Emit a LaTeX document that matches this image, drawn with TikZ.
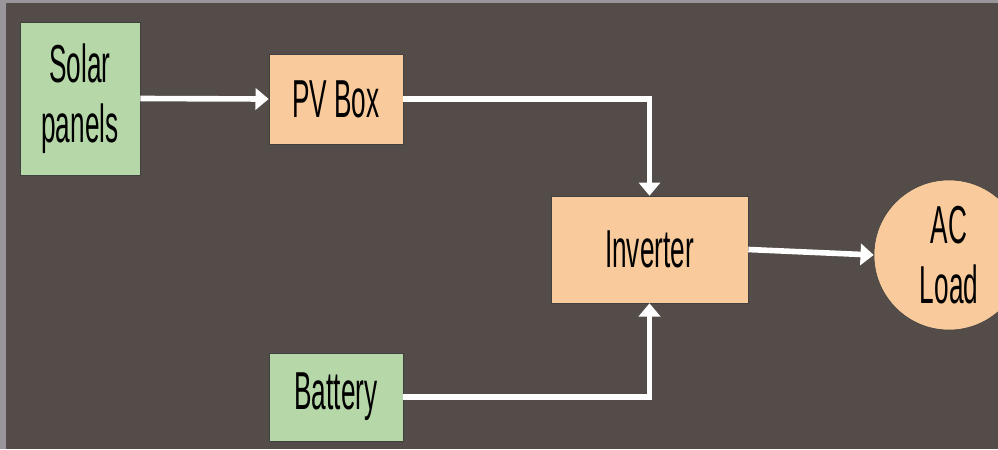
\documentclass[tikz,border=0pt]{standalone}
\usepackage{fontspec}
\setmainfont{Liberation Sans}[FakeStretch=0.49]
\usetikzlibrary{arrows.meta, positioning}
\definecolor{bgbrown}{HTML}{534C48}
\definecolor{framegray}{HTML}{9A959A}
\definecolor{srcgreen}{HTML}{B6D7A8}
\definecolor{convorange}{HTML}{F9CB9C}

\begin{document}
\begin{tikzpicture}[
      x=0.025cm, y=-0.025cm,
      block/.style={draw=black!75, thin, rectangle, align=center, inner sep=0pt,
                    font=\fontsize{38}{43}\selectfont},
      source/.style={block, fill=srcgreen},
      unit/.style={block, fill=convorange},
      load/.style={block, circle, fill=convorange, minimum size=3.75cm},
      flow/.style={white, line width=4pt, -{Triangle[length=0.33cm, width=0.53cm]}}
    ]
    % Hintergrund
    \useasboundingbox (0,0) rectangle (998,449);
    \fill[bgbrown] (0,0) rectangle (998,449);
    \fill[framegray] (0,0) rectangle (6,449);
    \fill[framegray] (0,0) rectangle (998,3);

    % Bloecke
    \node[source, minimum width=3cm, minimum height=3.825cm] (solar) at (80,98.5) {Solar\\panels};
    \node[unit, minimum width=3.35cm, minimum height=2.25cm] (pv) at (336,99) {PV Box};
    \node[unit, minimum width=4.925cm, minimum height=2.675cm] (inv) at (649.5,249.5) {Inverter};
    \node[source, minimum width=3.35cm, minimum height=2.2cm] (bat) at (336,397) {Battery};
    \node[load] (ac) at (949,255) {AC\\Load};

    % Verbindungen
    \draw[flow] (solar.east) -- (pv.west);
    \draw[flow] (pv.east) -| (inv.north);
    \draw[flow] (bat.east) -| (inv.south);
    \draw[flow] (inv.east) -- (ac.west);
  \end{tikzpicture}
\end{document}
